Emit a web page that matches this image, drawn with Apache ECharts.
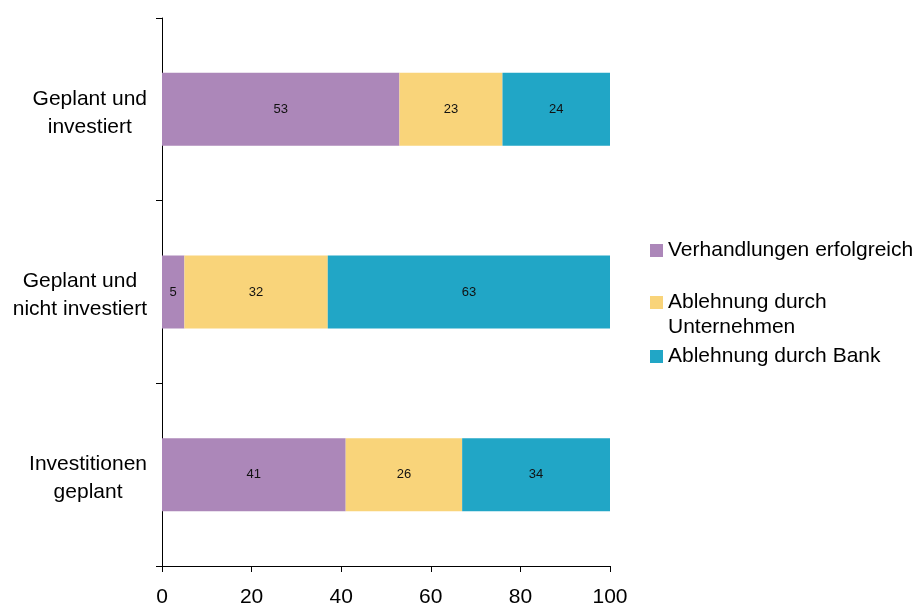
<!DOCTYPE html>
<html>
<head>
<meta charset="utf-8">
<script src="https://cdn.jsdelivr.net/npm/echarts@6/dist/echarts.min.js"></script>
<style>
  html, body { margin: 0; padding: 0; background: #fff; }
  #chart { width: 921px; height: 606px; }
</style>
</head>
<body>
<div id="chart"></div>
<script>
// Categories, top to bottom
const categories = ['Geplant und\ninvestiert', 'Geplant und\nnicht investiert', 'Investitionen\ngeplant'];
// Shares in percent per category
const verhandlungenErfolgreich = [53, 5, 41];
const ablehnungUnternehmen = [23, 32, 26];
const ablehnungBank = [24, 63, 34];
const seriesNames = ['Verhandlungen erfolgreich', 'Ablehnung durch\nUnternehmen', 'Ablehnung durch Bank'];
const seriesColors = ['#AC87B9', '#F9D47A', '#21A6C6'];
const xMin = 0, xMax = 100, xStep = 20;

const FONT = '"Liberation Sans", Arial, Helvetica, sans-serif';

function barSeries(name, values, color) {
  return {
    name: name,
    type: 'bar',
    stack: 'total',
    barWidth: '40%',
    data: values,
    itemStyle: { color: color },
    label: {
      show: true,
      position: 'inside',
      color: '#111',
      fontSize: 13,
      fontFamily: FONT
    },
    emphasis: { disabled: true }
  };
}

// One legend block per series so each entry can sit at its own height
function legendAt(name, top, formatter) {
  const lg = {
    orient: 'vertical',
    left: 645,
    top: top,
    icon: 'rect',
    itemWidth: 13,
    itemHeight: 13,
    selectedMode: false,
    data: [name],
    textStyle: { fontSize: 21, fontFamily: FONT, color: '#000', lineHeight: 25 }
  };
  if (formatter) lg.formatter = formatter;
  return lg;
}

const chart = echarts.init(document.getElementById('chart'), null, { renderer: 'canvas' });
chart.setOption({
  animation: false,
  backgroundColor: '#fff',
  grid: {
    left: 162, right: 311, top: 18, bottom: 40,
    containLabel: false,
    outerBoundsMode: 'none'
  },
  xAxis: {
    type: 'value',
    min: xMin,
    max: xMax,
    interval: xStep,
    axisLine: { show: true, lineStyle: { color: '#000', width: 1 } },
    axisTick: { show: true, length: 6, lineStyle: { color: '#000' } },
    splitLine: { show: false },
    axisLabel: { fontSize: 21, fontFamily: FONT, color: '#000', margin: 21 }
  },
  yAxis: {
    type: 'category',
    inverse: true,
    data: categories,
    axisLine: { show: true, lineStyle: { color: '#000', width: 1 } },
    axisTick: { show: true, length: 6, lineStyle: { color: '#000' } },
    axisLabel: {
      align: 'right',
      margin: 15,
      padding: [7, 0, 0, 0],
      // each line centred inside the right-aligned label block
      formatter: function (v) {
        return v.split('\n').map(function (s) { return '{c|' + s + '}'; }).join('\n');
      },
      rich: {
        c: { align: 'center', fontSize: 21, fontFamily: FONT, color: '#000', lineHeight: 28 }
      }
    }
  },
  legend: [
    legendAt(seriesNames[0], 233),
    legendAt(seriesNames[1], 260, function (n) { return '\n' + n; }),
    legendAt(seriesNames[2], 339)
  ],
  series: [
    barSeries(seriesNames[0], verhandlungenErfolgreich, seriesColors[0]),
    barSeries(seriesNames[1], ablehnungUnternehmen, seriesColors[1]),
    barSeries(seriesNames[2], ablehnungBank, seriesColors[2])
  ]
});
</script>
</body>
</html>
